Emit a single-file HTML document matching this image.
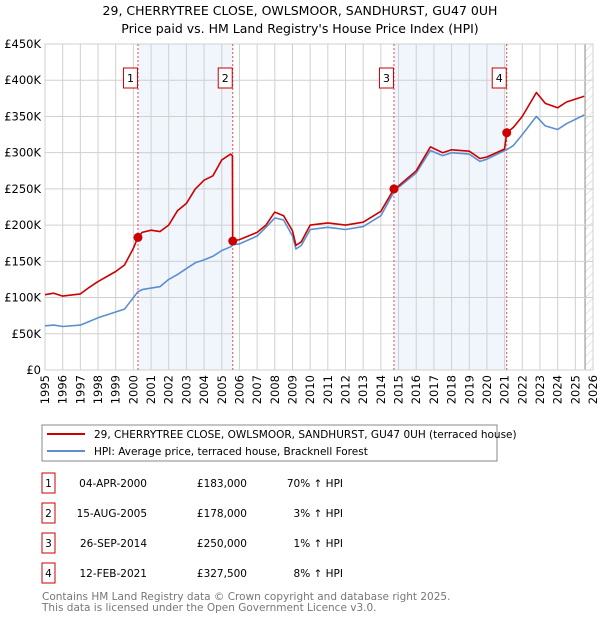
<!DOCTYPE html>
<html><head><meta charset="utf-8"><style>
body{margin:0;background:#fff;font-family:"DejaVu Sans","Liberation Sans",sans-serif;}
svg text{font-family:"DejaVu Sans","Liberation Sans",sans-serif;}
</style></head><body>
<svg id="c" width="600" height="620" xmlns="http://www.w3.org/2000/svg">
<text x="300" y="15" text-anchor="middle" font-size="12.5">29, CHERRYTREE CLOSE, OWLSMOOR, SANDHURST, GU47 0UH</text>
<text x="300" y="33" text-anchor="middle" font-size="12.5">Price paid vs. HM Land Registry's House Price Index (HPI)</text>
<defs><pattern id="hatch" width="6" height="6" patternUnits="userSpaceOnUse" patternTransform="rotate(45)"><line x1="0" y1="0" x2="0" y2="6" stroke="#ccc" stroke-width="1"/></pattern></defs>
<g id="plot"></g>
<rect x="42" y="425" width="455" height="36" fill="none" stroke="#888"/>
<line x1="47" y1="434" x2="85" y2="434" stroke="#cc0000" stroke-width="2"/>
<text x="94" y="438" font-size="10.5">29, CHERRYTREE CLOSE, OWLSMOOR, SANDHURST, GU47 0UH (terraced house)</text>
<line x1="47" y1="451" x2="85" y2="451" stroke="#5b8fd0" stroke-width="2"/>
<text x="94" y="455" font-size="10.5">HPI: Average price, terraced house, Bracknell Forest</text>
<g id="table"></g>
<text x="42" y="600" font-size="10.5" fill="#777">Contains HM Land Registry data © Crown copyright and database right 2025.</text>
<text x="42" y="611" font-size="10.5" fill="#777">This data is licensed under the Open Government Licence v3.0.</text>
</svg>
<script>
const dates=[1995,1995.5,1996,1997,1997.5,1998,1999,1999.5,2000,2000.25,2000.5,2001,2001.5,2002,2002.5,2003,2003.5,2004,2004.5,2005,2005.5,2005.6,2005.62,2006,2007,2007.5,2008,2008.5,2009,2009.2,2009.5,2010,2011,2012,2013,2014,2014.74,2015,2016,2016.8,2017.5,2018,2019,2019.6,2020,2021,2021.12,2021.5,2022,2022.8,2023.3,2024,2024.5,2025.5];
const hpi=[61,62,60,62,67,72,80,84,100,108,111,113,115,125,132,140,148,152,157,165,170,172,173,174,185,197,210,207,185,167,172,194,197,194,198,213,246,252,272,303,296,300,298,288,291,303,304,310,325,350,337,332,340,352];
const price=[104,106,102,105,114,122,136,145,168,183,190,193,191,200,220,230,250,262,268,290,298,296,178,180,190,200,218,213,192,172,177,200,203,200,204,219,250,254,275,308,300,304,302,292,294,305,327.5,335,350,383,368,362,370,378];
const saleDates=[2000.26,2005.62,2014.74,2021.12];
const saleValues=[183,178,250,327.5];
const saleLabels=["1","2","3","4"];
const saleDateText=["04-APR-2000","15-AUG-2005","26-SEP-2014","12-FEB-2021"];
const salePriceText=["£183,000","£178,000","£250,000","£327,500"];
const salePctText=["70% ↑ HPI","3% ↑ HPI","1% ↑ HPI","8% ↑ HPI"];
const yTicks=[0,50,100,150,200,250,300,350,400,450];
const yTickLabels=["£0","£50K","£100K","£150K","£200K","£250K","£300K","£350K","£400K","£450K"];
const years=[];for(let y=1995;y<=2026;y++)years.push(y);

const X0=45,X1=593,Y0=370,Y1=44;
const x=v=>X0+(v-1995)/(2026-1995)*(X1-X0);
const y=v=>Y0-v/450*(Y0-Y1);
const NS="http://www.w3.org/2000/svg";
const g=document.getElementById('plot');
function mk(t,a,p){const e=document.createElementNS(NS,t);for(const k in a)e.setAttribute(k,a[k]);(p||g).appendChild(e);return e;}

let r=mk('rect',{x:x(saleDates[0]),y:Y1,width:x(saleDates[1])-x(saleDates[0]),height:Y0-Y1,fill:'#eef2fb',opacity:0.8});


r=mk('rect',{x:x(saleDates[2]),y:Y1,width:x(saleDates[3])-x(saleDates[2]),height:Y0-Y1,fill:'#eef2fb',opacity:0.8});


r=mk('rect',{x:x(2025.55),y:Y1,width:X1-x(2025.55),height:Y0-Y1,fill:'url(#hatch)'});


mk('line',{x1:x(2025.55),y1:Y1,x2:x(2025.55),y2:Y0,stroke:'#888'});

years.forEach(yr=>{
 const l=mk('line',{x1:x(yr),y1:Y1,x2:x(yr),y2:Y0,stroke:'#d0d0d0'});
 
 
 const t=mk('text',{x:0,y:0,'font-size':11.5,'text-anchor':'end',transform:`translate(${x(yr)+4},${Y0+5}) rotate(-90)`});
 t.textContent=yr;
 
 
});
yTicks.forEach((v,i)=>{
 const l=mk('line',{x1:X0,y1:y(v),x2:X1,y2:y(v),stroke:'#d0d0d0'});
 
 
 const t=mk('text',{x:X0-4,y:y(v)+4,'font-size':11.5,'text-anchor':'end'});
 t.textContent=yTickLabels[i];
 
 
});
mk('rect',{x:X0,y:Y1,width:X1-X0,height:Y0-Y1,fill:'none',stroke:'#d0d0d0'});

saleDates.forEach((d,i)=>{
 const l=mk('line',{x1:x(d),y1:Y1,x2:x(d),y2:Y0,stroke:'#e05050','stroke-dasharray':'2,2','stroke-width':1});
 
 
});

function path(vals,color,name){
 const p=mk('path',{d:dates.map((d,i)=>(i?'L':'M')+x(d).toFixed(1)+','+y(vals[i]).toFixed(1)).join(''),fill:'none',stroke:color,'stroke-width':1.6,'stroke-linejoin':'round'});
 
 
}
path(hpi,'#5b8fd0','hpi-line');
path(price,'#cc0000','property-price-line');

saleDates.forEach((d,i)=>{
 const c=mk('circle',{cx:x(d),cy:y(saleValues[i]),r:4.5,fill:'#cc0000'});
 
 
 const b=mk('rect',{x:x(d)-14.5,y:68,width:14,height:20,fill:'#fff',stroke:'#cc0000'});
 
 
 const t=mk('text',{x:x(d)-7.5,y:82,'font-size':11,'text-anchor':'middle'});
 t.textContent=saleLabels[i];
 
 
});

const tb=document.getElementById('table');
saleLabels.forEach((s,i)=>{
 const cy=483+i*30;
 const b=mk('rect',{x:42,y:cy-10,width:13,height:20,fill:'none',stroke:'#cc0000'},tb);
 
 
 const cells=[[48.5,'middle',s,'row-number'],[147,'end',saleDateText[i],'row-date'],[247,'end',salePriceText[i],'row-price'],[343,'end',salePctText[i],'row-hpi-change']];
 cells.forEach(c=>{
  const t=mk('text',{x:c[0],y:cy+4,'font-size':10.5,'text-anchor':c[1]},tb);
  t.textContent=c[2];
  
  
 });
});
</script>
</body></html>
